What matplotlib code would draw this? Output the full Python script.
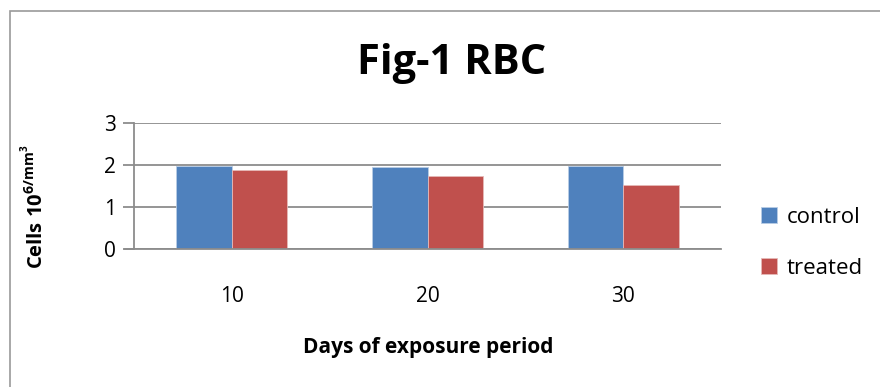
import matplotlib.pyplot as plt
import numpy as np
from matplotlib.patches import Rectangle

plt.rcParams['font.family'] = ['Open Sans', 'DejaVu Sans']
plt.rcParams['mathtext.fontset'] = 'custom'
plt.rcParams['mathtext.rm'] = 'Open Sans'
plt.rcParams['mathtext.bf'] = 'Open Sans:bold'

# data
days = ['10', '20', '30']
control = [1.98, 1.95, 1.97]
treated = [1.87, 1.74, 1.52]

fig = plt.figure(figsize=(8.8, 3.87), dpi=100)
W, H = 880, 387
ax = fig.add_axes([134 / W, 1 - 249 / H, (721 - 134) / W, (249 - 123) / H])

# chart border (only left and top visible in the original)
fig.patches.append(Rectangle((10 / W, -0.1), 1.2, 1 - 11 / H + 0.1,
                             transform=fig.transFigure, fill=False,
                             edgecolor='#9a9a9a', lw=1.2))

x = np.arange(len(days))
w = 0.284
ax.bar(x - w / 2, control, w, color='#4f81bd', edgecolor='#b9cde5', lw=0.6, label='control')
ax.bar(x + w / 2, treated, w, color='#c0504d', edgecolor='#e6b9b8', lw=0.6, label='treated')

ax.set_xlim(-0.5, 2.5)
ax.set_ylim(0, 3)
ax.set_yticks([0, 1, 2, 3])
ax.yaxis.grid(True, color='#8c8c8c', lw=1.3)
ax.set_axisbelow(True)
for s in ['top', 'right', 'bottom']:
    ax.spines[s].set_visible(False)
ax.spines['left'].set_color('#8c8c8c')
ax.spines['left'].set_linewidth(1.3)
ax.tick_params(axis='y', length=8, width=1.3, color='#8c8c8c', labelsize=15, pad=5)
ax.set_xticks(x)
ax.set_xticklabels(days)
ax.tick_params(axis='x', length=0, labelsize=15, pad=27)

ax.axhline(0, color='#8c8c8c', lw=1.3, xmin=-0.015, clip_on=False)

fig.text(428 / W, 1 - 347 / H, 'Days of exposure period', fontsize=15, fontweight='bold',
         ha='center', va='center')
fig.text(35 / W, 1 - 207 / H, r'Cells 10$^{\mathbf{6/mm}^{\mathbf{3}}}$', fontsize=14.5,
         fontweight='bold', rotation=90, ha='center', va='center')

fig.text(452 / W, 1 - 64 / H, 'Fig-1 RBC', fontsize=30, fontweight='bold', ha='center', va='center')

ax.legend(loc='center left', bbox_to_anchor=(741 / W, 1 - 243 / H), bbox_transform=fig.transFigure,
          frameon=False, fontsize=16, handlelength=0.7, handleheight=0.7, labelspacing=1.35,
          handletextpad=0.45)

fig.savefig('out.png', dpi=100)
